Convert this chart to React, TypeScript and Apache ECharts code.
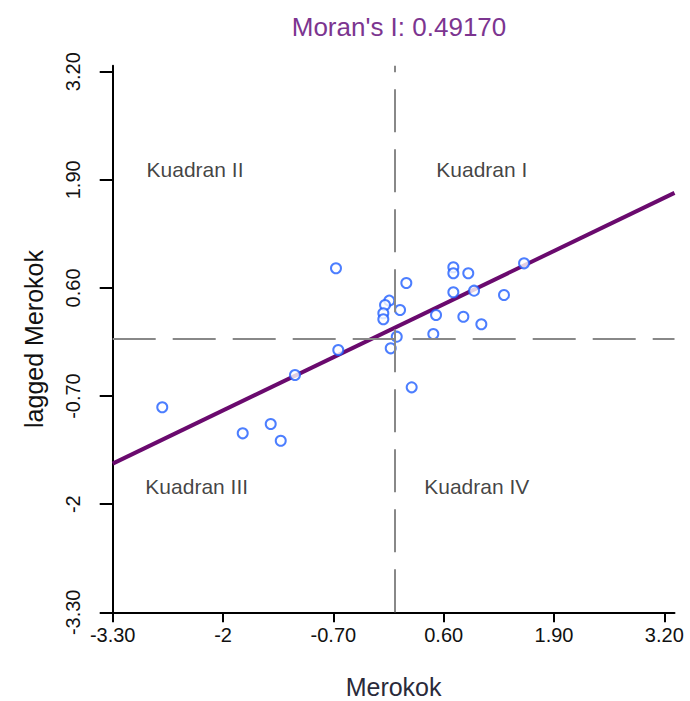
import React, { useEffect, useRef } from "react";
import * as echarts from "echarts";

// Standardized values (x) and spatially lagged values (y)
const merokok = [
  -0.669, 0.714, 0.714, 0.890, 0.160, 0.714, 0.958, 1.311, 1.547,
  -0.041, -0.091, 0.086, -0.111, -0.111, 0.510, 0.832, 1.044, 0.478,
  0.047, -0.642, -0.024, 0.223, -1.152, -2.716, -1.768, -1.438, -1.320,
];
const laggedMerokok = [
  0.836, 0.848, 0.776, 0.776, 0.659, 0.548, 0.567, 0.515, 0.896,
  0.447, 0.395, 0.335, 0.295, 0.223, 0.275, 0.254, 0.163, 0.046,
  0.014, -0.146, -0.126, -0.595, -0.447, -0.835, -1.148, -1.036, -1.237,
];

const tickValues = [-3.3, -2, -0.7, 0.6, 1.9, 3.2];
const tickLabels = ["-3.30", "-2", "-0.70", "0.60", "1.90", "3.20"];

const moranI = 0.4917;
const interceptValue = 0.11;
const meanX = 0.02;
const meanY = -0.01;

const quadrantNames = ["Kuadran I", "Kuadran II", "Kuadran III", "Kuadran IV"];
const quadrantAnchors = [
  [1.05, 2.02],
  [-2.33, 2.02],
  [-2.31, -1.79],
  [0.99, -1.79],
];

const X_MIN = -3.3;
const X_MAX = 3.32;
const Y_MIN = -3.3;
const Y_MAX = 3.272;

const fmt = (v: number) => {
  const i = tickValues.findIndex((t) => Math.abs(t - v) < 1e-6);
  return i >= 0 ? tickLabels[i] : "";
};

export default function App() {
  const ref = useRef<HTMLDivElement>(null);
  useEffect(() => {
    if (!ref.current) return;
    const chart = echarts.init(ref.current, null, { renderer: "svg" });
    const font = "'Liberation Sans', Arial, sans-serif";
    const pts = merokok.map((x, i) => [x, laggedMerokok[i]]);
    const lineData = [
      [X_MIN, interceptValue + moranI * X_MIN],
      [X_MAX, interceptValue + moranI * X_MAX],
    ];
    chart.setOption({
      animation: false,
      textStyle: { fontFamily: font },
      title: {
        text: "Moran's I: 0.49170",
        left: 394,
        top: 9,
        textAlign: "center",
        textStyle: { color: "#7c3590", fontSize: 26, fontWeight: "normal", fontFamily: font },
      },
      grid: {
        left: 112.7,
        right: 15.5,
        top: 65.7,
        bottom: 88.7,
        containLabel: false,
        outerBoundsMode: "none",
      },
      xAxis: {
        type: "value",
        min: X_MIN,
        max: X_MAX,
        splitLine: { show: false },
        axisLine: { show: true, onZero: false, lineStyle: { color: "#000", width: 2 } },
        axisTick: { show: true, length: 10, lineStyle: { color: "#000", width: 2 }, customValues: tickValues },
        axisLabel: {
          customValues: tickValues,
          formatter: fmt,
          margin: 13,
          fontSize: 20,
          color: "#111",
          fontFamily: font,
          showMinLabel: true,
          showMaxLabel: true,
        },
        name: "Merokok",
        nameLocation: "middle",
        nameGap: 62,
        nameTextStyle: { fontSize: 25, color: "#2a2a3a", fontFamily: font },
      },
      yAxis: {
        type: "value",
        min: Y_MIN,
        max: Y_MAX,
        splitLine: { show: false },
        axisLine: { show: true, onZero: false, lineStyle: { color: "#000", width: 2 } },
        axisTick: { show: true, length: 13, lineStyle: { color: "#000", width: 2 }, customValues: tickValues },
        axisLabel: {
          customValues: tickValues,
          formatter: fmt,
          rotate: 90,
          margin: 30,
          fontSize: 20,
          color: "#111",
          fontFamily: font,
          showMinLabel: true,
          showMaxLabel: true,
        },
        name: "lagged Merokok",
        nameLocation: "middle",
        nameGap: 66,
        nameRotate: 90,
        nameTextStyle: { fontSize: 25, color: "#111", fontFamily: font },
      },
      series: [
        {
          type: "line",
          name: "regression",
          data: lineData,
          showSymbol: false,
          symbol: "none",
          lineStyle: { color: "#6a0a6e", width: 4 },
          z: 3,
          markLine: {
            silent: true,
            symbol: "none",
            label: { show: false },
            lineStyle: { color: "#888", width: 2, type: [43, 17] },
            data: [{ xAxis: meanX }, { yAxis: meanY }],
          },
        },
        {
          type: "scatter",
          name: "points",
          data: pts,
          symbol: "emptyCircle",
          symbolSize: 10,
          itemStyle: { color: "#1f5eff", borderColor: "#1f5eff", borderWidth: 2 },
          z: 4,
        },
        {
          type: "scatter",
          name: "quadrants",
          data: quadrantAnchors.map((p, i) => ({ value: p, name: quadrantNames[i] })),
          symbolSize: 0,
          silent: true,
          label: {
            show: true,
            position: "inside",
            formatter: (p: any) => p.name,
            fontSize: 21,
            color: "#111",
            fontFamily: font,
          },
        },
      ],
    });
    return () => chart.dispose();
  }, []);
  return (
    <div
      ref={ref}
      style={{ position: "fixed", left: 0, top: 0, width: 690, height: 701, background: "#fff" }}
    />
  );
}
